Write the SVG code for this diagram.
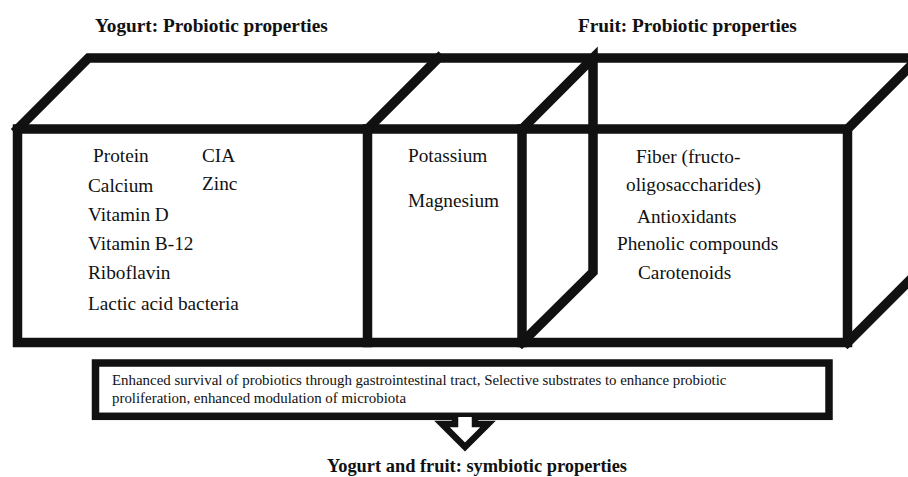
<svg xmlns="http://www.w3.org/2000/svg" width="908" height="477" viewBox="0 0 908 477">
<style>
.edge{fill:none;stroke:#111;stroke-width:9.5;stroke-linejoin:miter;stroke-linecap:square}
text{font-family:'Liberation Serif','DejaVu Serif','Times New Roman',serif;fill:#111}
.t{font-size:19.3px}
.title{font-size:19.3px;font-weight:bold}
.small{font-size:14.9px}
</style>
<rect width="908" height="477" fill="#fff"/>
<g id="titles">
<text class="title" x="95" y="32">Yogurt: Probiotic properties</text>
<text class="title" x="578" y="32">Fruit: Probiotic properties</text>
</g>
<g id="cube">
<path class="edge" d="M17.5,129 L88.5,58 L940,58"/>
<rect class="edge" x="17.5" y="129" width="830" height="213.5"/>
<path class="edge" d="M367.5,129 L438.5,58"/>
<path class="edge" d="M367.5,129 L367.5,342.5"/>
<path class="edge" d="M522,129 L593,58 L593,272 L522,342.5"/>
<path class="edge" d="M522,129 L522,342.5"/>
<path class="edge" d="M847.5,129 L918.5,58"/>
<path class="edge" d="M847.5,342.5 L918.5,271.5"/>
</g>
<g id="yogurt">
<text class="t" x="93" y="162">Protein</text>
<text class="t" x="202" y="162">CIA</text>
<text class="t" x="88" y="192">Calcium</text>
<text class="t" x="202" y="190">Zinc</text>
<text class="t" x="88" y="221">Vitamin D</text>
<text class="t" x="88" y="250">Vitamin B-12</text>
<text class="t" x="88" y="279">Riboflavin</text>
<text class="t" x="88" y="310">Lactic acid bacteria</text>
</g>
<g id="minerals">
<text class="t" x="408" y="162">Potassium</text>
<text class="t" x="408" y="207">Magnesium</text>
</g>
<g id="fruit">
<text class="t" x="636" y="163">Fiber (fructo-</text>
<text class="t" x="626" y="191">oligosaccharides)</text>
<text class="t" x="637" y="223">Antioxidants</text>
<text class="t" x="617" y="250">Phenolic compounds</text>
<text class="t" x="638" y="279">Carotenoids</text>
</g>
<g id="synergy">
<rect x="95.5" y="363" width="733.5" height="53.3" fill="#fff" stroke="#111" stroke-width="7.5"/>
<text class="small" x="112" y="385">Enhanced survival of probiotics through gastrointestinal tract, Selective substrates to enhance probiotic</text>
<text class="small" x="112" y="403">proliferation, enhanced modulation of microbiota</text>
</g>
<g id="connectors">
<path d="M455,417 L455,424 L442,424 L465,447 L488,424 L475,424 L475,417" fill="#fff" stroke="#111" stroke-width="6.5" stroke-linejoin="miter"/>
</g>
<g id="result">
<text class="title" x="477" y="472" text-anchor="middle" style="font-size:18.4px">Yogurt and fruit: symbiotic properties</text>
</g>
</svg>
